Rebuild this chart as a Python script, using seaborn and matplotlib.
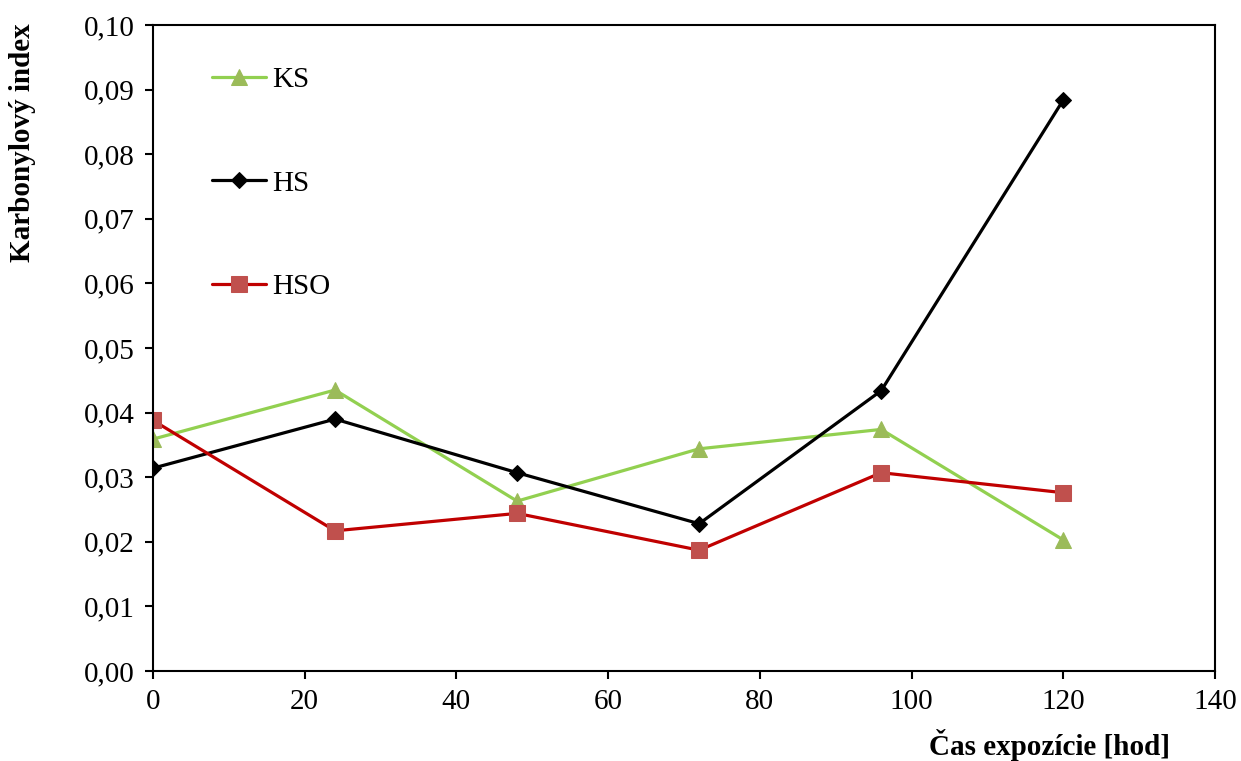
import pandas as pd
import numpy as np
import matplotlib
matplotlib.use("Agg")
import matplotlib.pyplot as plt
import seaborn as sns
from matplotlib.ticker import FuncFormatter, MultipleLocator

cas = [0, 24, 48, 72, 96, 120]
ks = [0.0359, 0.0435, 0.0263, 0.0344, 0.0374, 0.0203]
hs = [0.0314, 0.0390, 0.0307, 0.0228, 0.0434, 0.0884]
hso = [0.0388, 0.0217, 0.0244, 0.0187, 0.0307, 0.0276]

series = ["KS", "HS", "HSO"]
line_colors = {"KS": "#92D050", "HS": "#000000", "HSO": "#C00000"}
marker_colors = {"KS": "#9BBB59", "HS": "#000000", "HSO": "#C0504D"}
markers = {"KS": "^", "HS": "D", "HSO": "s"}
msizes = {"KS": 12, "HS": 8, "HSO": 11}

data = pd.DataFrame({"cas": cas * 3,
                     "index": ks + hs + hso,
                     "vzorka": ["KS"] * 6 + ["HS"] * 6 + ["HSO"] * 6})

sns.set_style("ticks")
plt.rcParams['font.family'] = ['Liberation Serif', 'DejaVu Serif']
plt.rcParams['text.color'] = 'black'
plt.rcParams['axes.labelcolor'] = 'black'
plt.rcParams['xtick.color'] = 'black'
plt.rcParams['ytick.color'] = 'black'

fs = 21

fig = plt.figure(figsize=(12.41, 7.61), dpi=100)
ax = fig.add_axes([0.1233, 0.1183, 0.8557, 0.8487])

for s in series:
    sub = data[data["vzorka"] == s]
    sns.lineplot(data=sub, x="cas", y="index", ax=ax, label=s,
                 color=line_colors[s], linewidth=2.3,
                 marker=markers[s], markersize=msizes[s],
                 markerfacecolor=marker_colors[s], markeredgecolor=marker_colors[s])

ax.set_xlim(0, 140)
ax.set_ylim(0, 0.10)
ax.xaxis.set_major_locator(MultipleLocator(20))
ax.yaxis.set_major_locator(MultipleLocator(0.01))
ax.yaxis.set_major_formatter(FuncFormatter(lambda v, p: f"{v:.2f}".replace(".", ",")))
ax.tick_params(axis='both', labelsize=fs, length=6, width=1.5, direction='out',
               colors='black', labelcolor='black')
ax.tick_params(axis='x', pad=7)
ax.tick_params(axis='y', pad=7)
for sp in ax.spines.values():
    sp.set_visible(True)
    sp.set_linewidth(1.5)
    sp.set_color('black')

ax.set_xlabel("Čas expozície [hod]", fontsize=fs, fontweight='bold', ha='right', va='center',
              color='black')
ax.xaxis.set_label_coords(0.958, -0.115)
ax.set_ylabel("Karbonylový index", fontsize=fs, fontweight='bold', va='center', ha='center',
              color='black')
ax.yaxis.set_label_coords(-0.123, 0.818)

leg = ax.legend(loc='upper left', bbox_to_anchor=(0.0556, 0.936), frameon=False,
                fontsize=fs, handlelength=1.85, handletextpad=0.2, labelspacing=2.65,
                borderpad=0, borderaxespad=0)
for t in leg.get_texts():
    t.set_color('black')

plt.savefig("out.png", dpi=100)
